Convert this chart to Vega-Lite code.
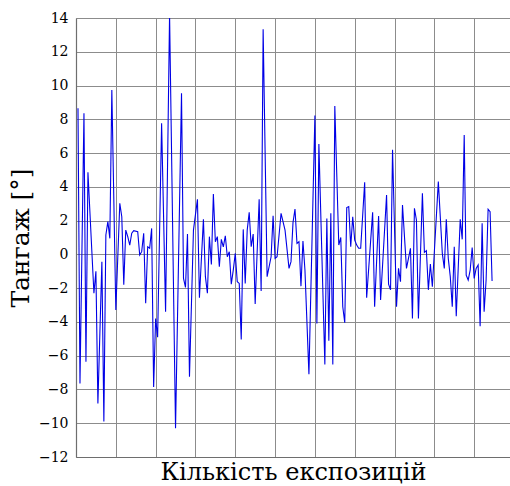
{
  "$schema": "https://vega.github.io/schema/vega-lite/v6.json",
  "autosize": {"type": "none"},
  "width": 434,
  "height": 439,
  "padding": {"left": 76, "top": 18, "right": 0, "bottom": 29},
  "background": "white",
  "config": {
    "view": {"stroke": null},
    "font": "DejaVu Serif"
  },
  "data": {"values": [
    {"x":1,"v":8.66},{"x":2,"v":-7.65},{"x":4,"v":8.36},{"x":5,"v":-6.36},{"x":6,"v":4.86},
    {"x":9,"v":-2.3},{"x":10,"v":-1.0},{"x":11,"v":-8.83},{"x":13,"v":-0.43},{"x":14,"v":-9.9},
    {"x":15,"v":1.15},{"x":16,"v":1.94},{"x":17,"v":0.95},{"x":18,"v":9.74},{"x":20,"v":-3.3},
    {"x":22,"v":3.02},{"x":23,"v":2.23},{"x":24,"v":-1.8},{"x":25,"v":1.44},{"x":26,"v":1.05},
    {"x":27,"v":0.55},{"x":28,"v":1.25},{"x":29,"v":1.4},{"x":31,"v":1.34},{"x":32,"v":-0.04},
    {"x":33,"v":0.16},{"x":34,"v":1.25},{"x":35,"v":-2.9},{"x":36,"v":0.45},{"x":37,"v":0.36},
    {"x":38,"v":1.54},{"x":39,"v":-7.85},{"x":40,"v":-3.8},{"x":41,"v":-4.9},{"x":43,"v":7.77},
    {"x":45,"v":-3.4},{"x":47,"v":14.2},{"x":50,"v":-10.3},{"x":53,"v":9.55},{"x":54,"v":-1.42},
    {"x":55,"v":-1.96},{"x":56,"v":1.2},{"x":57,"v":-7.25},{"x":59,"v":1.44},{"x":61,"v":3.26},
    {"x":62,"v":-2.57},{"x":64,"v":2.08},{"x":65,"v":-1.32},{"x":66,"v":-2.3},{"x":67,"v":1.05},
    {"x":68,"v":-0.6},{"x":69,"v":3.58},{"x":70,"v":0.75},{"x":71,"v":1.05},{"x":72,"v":-0.73},
    {"x":73,"v":0.89},{"x":74,"v":0.45},{"x":75,"v":1.1},{"x":76,"v":-0.14},{"x":77,"v":0.16},
    {"x":78,"v":-1.76},{"x":79,"v":-0.93},{"x":80,"v":0.06},{"x":81,"v":-1.62},{"x":82,"v":-1.72},
    {"x":83,"v":-5.04},{"x":84,"v":1.48},{"x":85,"v":-1.72},{"x":86,"v":1.44},{"x":87,"v":2.49},
    {"x":88,"v":0.45},{"x":89,"v":1.2},{"x":90,"v":-2.94},{"x":92,"v":3.26},{"x":93,"v":-2.17},
    {"x":94,"v":13.34},{"x":96,"v":-1.32},{"x":98,"v":-0.14},{"x":99,"v":2.29},{"x":100,"v":-0.24},
    {"x":101,"v":-0.14},{"x":103,"v":2.43},{"x":105,"v":1.44},{"x":107,"v":-0.83},{"x":108,"v":-0.43},
    {"x":109,"v":1.88},{"x":110,"v":2.69},{"x":111,"v":0.65},{"x":112,"v":0.75},{"x":113,"v":-1.88},
    {"x":114,"v":0.79},{"x":115,"v":-0.93},{"x":117,"v":-7.1},{"x":120,"v":8.22},{"x":121,"v":-4.09},
    {"x":122,"v":6.54},{"x":125,"v":-6.52},{"x":126,"v":2.13},{"x":127,"v":-5.12},{"x":128,"v":2.43},
    {"x":129,"v":-6.52},{"x":130,"v":8.79},{"x":132,"v":0.55},{"x":133,"v":1.0},{"x":134,"v":-3.1},
    {"x":135,"v":-4.05},{"x":136,"v":2.77},{"x":137,"v":2.83},{"x":138,"v":0.45},{"x":139,"v":2.23},
    {"x":140,"v":0.85},{"x":141,"v":0.55},{"x":142,"v":0.36},{"x":143,"v":0.36},{"x":145,"v":4.27},
    {"x":146,"v":-2.57},{"x":149,"v":2.49},{"x":150,"v":-3.1},{"x":152,"v":2.27},{"x":153,"v":-2.7},
    {"x":156,"v":3.52},{"x":157,"v":-1.76},{"x":158,"v":-2.1},{"x":159,"v":6.19},{"x":161,"v":-3.1},
    {"x":162,"v":-0.83},{"x":163,"v":-1.62},{"x":164,"v":2.92},{"x":166,"v":-0.83},{"x":168,"v":0.36},
    {"x":169,"v":-3.8},{"x":170,"v":2.73},{"x":171,"v":2.04},{"x":172,"v":-3.8},{"x":174,"v":3.62},
    {"x":175,"v":0.12},{"x":176,"v":0.22},{"x":177,"v":-2.1},{"x":178,"v":-0.57},{"x":179,"v":-1.92},
    {"x":182,"v":4.31},{"x":184,"v":0.06},{"x":185,"v":-0.83},{"x":186,"v":2.08},{"x":187,"v":-0.24},
    {"x":188,"v":-1.32},{"x":189,"v":-3.1},{"x":190,"v":0.45},{"x":191,"v":-3.66},{"x":193,"v":2.08},
    {"x":194,"v":0.89},{"x":195,"v":7.07},{"x":196,"v":-1.23},{"x":197,"v":-1.52},{"x":198,"v":-0.93},
    {"x":199,"v":0.41},{"x":200,"v":-1.42},{"x":201,"v":-0.83},{"x":202,"v":-0.63},{"x":203,"v":-4.25},
    {"x":204,"v":1.84},{"x":205,"v":-3.4},{"x":206,"v":-1.52},{"x":207,"v":2.67},{"x":208,"v":2.53},
    {"x":209,"v":-1.58}
  ]},
  "mark": {"type": "line", "color": "#0000e6", "strokeWidth": 1.1, "clip": true},
  "encoding": {
    "x": {
      "field": "x", "type": "quantitative",
      "scale": {"domain": [0, 218], "nice": false, "zero": false},
      "axis": {
        "values": [0, 20, 40, 60, 80, 100, 120, 140, 160, 180, 200],
        "labels": false, "ticks": false,
        "grid": true, "gridColor": "#8c8c8c", "gridWidth": 1, "gridOpacity": 1,
        "domainColor": "#6e6e6e", "domainWidth": 1.2,
        "title": "Кількість експозицій",
        "titleFont": "DejaVu Serif", "titleFontSize": 24, "titleFontWeight": "normal",
        "titleColor": "#000000", "titlePadding": 3
      }
    },
    "y": {
      "field": "v", "type": "quantitative",
      "scale": {"domain": [-12, 14], "nice": false, "zero": false},
      "axis": {
        "values": [-12, -10, -8, -6, -4, -2, 0, 2, 4, 6, 8, 10, 12, 14],
        "ticks": false, "labelPadding": 8,
        "labelFont": "DejaVu Serif", "labelFontSize": 14, "labelColor": "#000000",
        "grid": true, "gridColor": "#8c8c8c", "gridWidth": 1, "gridOpacity": 1,
        "domainColor": "#6e6e6e", "domainWidth": 1.2,
        "title": "Тангаж [°]",
        "titleFont": "DejaVu Serif", "titleFontSize": 25, "titleFontWeight": "normal",
        "titleColor": "#000000", "titlePadding": 5
      }
    }
  }
}
